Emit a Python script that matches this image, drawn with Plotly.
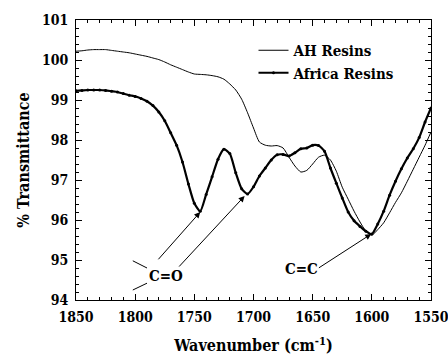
import plotly.graph_objects as go

wavenumber = [1850, 1845, 1840, 1835, 1830, 1825, 1820, 1815, 1810, 1805,
              1800, 1795, 1790, 1785, 1780, 1775, 1770, 1765, 1760, 1755,
              1750, 1745, 1740, 1735, 1730, 1725, 1720, 1715, 1710, 1705,
              1700, 1695, 1690, 1685, 1680, 1675, 1670, 1665, 1660, 1655,
              1650, 1645, 1640, 1635, 1630, 1625, 1620, 1615, 1610, 1605,
              1600, 1595, 1590, 1585, 1580, 1575, 1570, 1565, 1560, 1555, 1550]

ah_resins = [100.22, 100.23, 100.25, 100.26, 100.26, 100.26, 100.24, 100.22, 100.20, 100.18,
             100.15, 100.12, 100.09, 100.05, 100.01, 99.95, 99.88, 99.82, 99.76, 99.70,
             99.65, 99.64, 99.63, 99.61, 99.58, 99.52, 99.40, 99.25, 99.02, 98.68,
             98.30, 97.95, 97.87, 97.85, 97.86, 97.80, 97.57, 97.35, 97.20, 97.24,
             97.40, 97.57, 97.62, 97.50, 97.22, 96.82, 96.52, 96.22, 95.95, 95.72,
             95.62, 95.76, 95.93, 96.18, 96.44, 96.68, 96.97, 97.27, 97.57, 97.87, 98.20]

africa_resins = [99.23, 99.24, 99.25, 99.25, 99.25, 99.24, 99.22, 99.20, 99.16, 99.12,
                 99.09, 99.04, 98.97, 98.86, 98.70, 98.48, 98.18, 97.87, 97.45, 96.90,
                 96.42, 96.22, 96.64, 97.08, 97.52, 97.77, 97.66, 97.18, 96.78, 96.65,
                 96.83, 97.10, 97.30, 97.50, 97.63, 97.64, 97.60, 97.68, 97.78, 97.80,
                 97.87, 97.86, 97.72, 97.30, 96.92, 96.55, 96.20, 95.98, 95.84, 95.72,
                 95.65, 95.90, 96.22, 96.62, 96.97, 97.28, 97.55, 97.78, 98.06, 98.45, 98.80]

x_ticks = [1850, 1800, 1750, 1700, 1650, 1600, 1550]
y_ticks = [94, 95, 96, 97, 98, 99, 100, 101]

font_family = "DejaVu Serif Condensed, DejaVu Serif, serif"

fig = go.Figure()
fig.add_trace(go.Scatter(x=wavenumber, y=ah_resins, mode="lines", name="<b>AH Resins</b>",
                         line=dict(color="black", width=1, shape="spline", smoothing=0.6)))
fig.add_trace(go.Scatter(x=wavenumber, y=africa_resins, mode="lines+markers", name="<b>Africa Resins</b>",
                         line=dict(color="black", width=2.2, shape="spline", smoothing=0.6),
                         marker=dict(color="black", size=3)))

arrow_common = dict(xref="x", yref="y", axref="x", ayref="y", text="", showarrow=True,
                    arrowhead=2, arrowsize=1.2, arrowwidth=1, arrowcolor="black")
fig.add_annotation(x=1745, y=96.2, ax=1781.5, ay=94.98, **arrow_common)
fig.add_annotation(x=1707.5, y=96.6, ax=1764, ay=94.8, **arrow_common)
fig.add_annotation(x=1600.5, y=95.65, ax=1646, ay=94.78, **arrow_common)
fig.add_annotation(x=1774, y=94.6, text="<b>C=O</b>", showarrow=False,
                   font=dict(family=font_family, size=15, color="black"))
fig.add_annotation(x=1659.5, y=94.78, text="<b>C=C</b>", showarrow=False,
                   font=dict(family=font_family, size=15, color="black"))
fig.add_shape(type="line", xref="x", yref="y", x0=1802, y0=94.98, x1=1790, y1=94.8,
              line=dict(color="black", width=1))
fig.add_shape(type="line", xref="x", yref="y", x0=1802, y0=94.25, x1=1790, y1=94.42,
              line=dict(color="black", width=1))

axis_common = dict(showline=True, linecolor="black", linewidth=1, mirror="ticks",
                   ticks="inside", ticklen=6, tickcolor="black", showgrid=False, zeroline=False,
                   ticklabeloverflow="allow", automargin=False, ticklabelstandoff=4,
                   tickfont=dict(family=font_family, size=14, color="black"))

fig.update_xaxes(range=[1850, 1550], tickvals=x_ticks,
                 ticktext=["<b>%d</b>" % v for v in x_ticks],
                 minor=dict(dtick=10, ticks="inside", ticklen=3, tickcolor="black", showgrid=False),
                 title=dict(text="<b>Wavenumber (cm<sup>-1</sup>)</b>",
                            font=dict(family=font_family, size=16, color="black"), standoff=16),
                 **axis_common)
fig.update_yaxes(range=[94, 101], tickvals=y_ticks,
                 ticktext=["<b>%d</b>" % v for v in y_ticks],
                 minor=dict(dtick=0.2, ticks="inside", ticklen=3, tickcolor="black", showgrid=False),
                 title=dict(text="<b>% Transmittance</b>",
                            font=dict(family=font_family, size=16, color="black"), standoff=8),
                 **axis_common)

fig.update_layout(width=448, height=360, margin=dict(l=76, r=17, t=20, b=60),
                  plot_bgcolor="white", paper_bgcolor="white",
                  font=dict(family=font_family),
                  showlegend=True,
                  legend=dict(x=0.5, y=0.95, xanchor="left", yanchor="top",
                              bgcolor="rgba(0,0,0,0)", tracegroupgap=0,
                              font=dict(family=font_family, size=15, color="black")))

fig.write_html("out.html")
